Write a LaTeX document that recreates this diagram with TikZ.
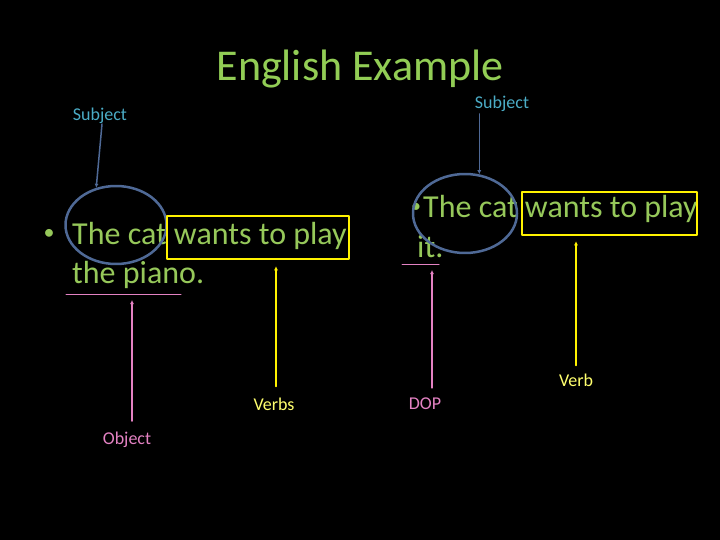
\documentclass[tikz,border=0pt]{standalone}
\usepackage{fontspec}
\setmainfont{Carlito}
\usetikzlibrary{shapes.geometric,arrows.meta}
\definecolor{titlegreen}{RGB}{146,205,85}
\definecolor{textgreen}{RGB}{150,200,90}
\definecolor{subjblue}{RGB}{75,172,198}
\definecolor{ringblue}{RGB}{79,105,150}
\definecolor{objpink}{RGB}{228,130,195}
\definecolor{verbyellow}{RGB}{255,255,110}
\tikzset{
	words/.style={font=\fontsize{32}{39}\selectfont,text=textgreen,inner sep=0pt,anchor=base west},
	tag/.style={font=\fontsize{18}{20}\selectfont,inner sep=0pt},
	ring/.style={ellipse,draw=ringblue,line width=2.5pt,inner sep=0pt},
	frame/.style={rectangle,draw=yellow,line width=2.5pt,inner sep=0pt},
	ptr/.style={-{Latex[length=4pt,width=4pt]},line width=1.5pt},
}
\begin{document}
\begin{tikzpicture}[x=1pt,y=-1pt,line
			join=round,line
			cap=round]
			\fill[black] (0,0) rectangle (720,540);
			\node[font=\fontsize{44}{48}\selectfont,text=titlegreen]
			(title) at (360,69) {English Example};
			\node[words,anchor=center,font=\fontsize{22}{30}\selectfont] (dotL) at (49,234) {•};
			\node[words] (lineLa) at (72,244) {The cat wants to play};
			\node[words] (lineLb) at (72,283) {the piano.};
			\node[words,anchor=center,font=\fontsize{20}{30}\selectfont] (dotR) at (416,208) {•};
			\node[words] (lineRa) at (423,218) {The cat wants to play};
			\node[words] (lineRb) at (417,257) {it.};
			\node[ring,minimum width=101pt,minimum height=78pt] (ringL) at (116,225) {};
			\node[ring,minimum width=104pt,minimum height=79pt] (ringR) at (465,213.5) {};
			\node[frame,minimum width=182pt,minimum height=43pt] (boxL) at (258,237.5) {};
			\node[frame,minimum width=175pt,minimum height=43pt] (boxR) at (609.5,213.5) {};
			\coordinate (pianoA) at (66,294);
			\coordinate (pianoB) at (181,294);
			\coordinate (itA) at (402,264);
			\coordinate (itB) at (439,264);
			\draw[objpink,line width=1pt] (pianoA)--(pianoB) (itA)--(itB);
			\node[tag,text=subjblue] (subjTagL) at (100,116) {Subject};
			\node[tag,text=subjblue] (subjTagR) at (502,104) {Subject};
			\node[tag,text=objpink] (objTag) at (127,440) {Object};
			\node[tag,text=objpink] (dopTag) at (425,404) {DOP};
			\node[tag,text=verbyellow] (verbsTag) at (274,404) {Verbs};
			\node[tag,text=verbyellow] (verbTag) at (576,380) {Verb};
			\draw[ptr,ringblue] ([xshift=2pt]subjTagL.south) -- (ringL.118);
			\draw[ptr,ringblue,shorten <=2pt] (ringR.70 |- subjTagR.south) -- (ringR.70);
			\draw[ptr,objpink,shorten <=11pt,shorten >=6pt]
			([xshift=5pt]objTag.north) -- ([xshift=5pt]objTag.north |- pianoA);
			\draw[ptr,objpink,shorten <=10pt,shorten >=6pt]
			([xshift=7pt]dopTag.north) -- ([xshift=7pt]dopTag.north |- itA);
			\draw[ptr,yellow,shorten <=11pt,shorten >=6pt]
			([xshift=2pt]verbsTag.north) -- ([xshift=2pt]verbsTag.north |- boxL.south);
			\draw[ptr,yellow,shorten <=8pt,shorten >=5pt]
			(verbTag.north) -- (verbTag.north |- boxR.south);
	\end{tikzpicture}
\end{document}
